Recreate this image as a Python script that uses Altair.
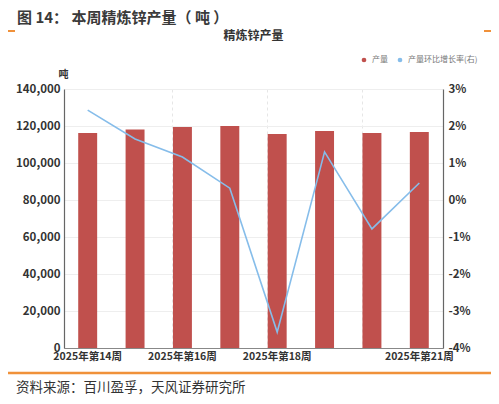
import altair as alt
import pandas as pd

FONT = "Noto Sans CJK SC"

weeks = ["2025年第14周", "2025年第15周", "2025年第16周", "2025年第17周",
         "2025年第18周", "2025年第19周", "2025年第20周", "2025年第21周"]
output = [116200, 118100, 119500, 120000, 115700, 117300, 116200, 116800]
growth = [2.43, 1.65, 1.16, 0.32, -3.57, 1.30, -0.78, 0.46]
shown_labels = ["2025年第14周", "2025年第16周", "2025年第18周", "2025年第21周"]
grid_weeks = ["2025年第16周", "2025年第18周", "2025年第20周"]
series_names = ["产量", "产量环比增长率(右)"]
series_colors = ["#c0504d", "#86bdea"]
left_ticks = [0, 20000, 40000, 60000, 80000, 100000, 120000, 140000]
right_ticks = [-4, -3, -2, -1, 0, 1, 2, 3]
fig_title = ["图 14： 本周精炼锌产量（ 吨 ）"]
chart_title = ["精炼锌产量"]
source_text = ["资料来源：百川盈孚，天风证券研究所"]

df = pd.DataFrame({"week": weeks, "output": output, "growth": growth})

W, H = 379, 259

label_list = "[" + ",".join("'" + s + "'" for s in shown_labels) + "]"
grid_list = "[" + ",".join("'" + s + "'" for s in grid_weeks) + "]"

x_enc = alt.X(
    "week:N", sort=weeks, title=None,
    scale=alt.Scale(paddingInner=0.6, paddingOuter=0.3),
    axis=alt.Axis(
        labelAngle=0, ticks=False, labelOverlap=False,
        labelExpr=f"indexof({label_list}, datum.value) >= 0 ? datum.value : ''",
        labelFont=FONT, labelFontSize=10.5, labelColor="#333", labelFontWeight="bold",
        labelPadding=3, domainColor="#888", domainWidth=1.2,
        grid=True, bandPosition=0, gridColor="#e6e6e6", gridDash=[3, 3],
        gridOpacity=alt.ConditionalAxisNumber(
            condition={"test": f"indexof({grid_list}, datum.value) >= 0", "value": 1},
            value=0),
    ),
)

color_enc = alt.Color(
    "series:N",
    scale=alt.Scale(domain=series_names, range=series_colors),
    legend=alt.Legend(
        title=None, orient="none", direction="horizontal",
        legendX=296, legendY=-33, symbolType="circle", symbolSize=22,
        labelFont=FONT, labelFontSize=8, labelColor="#777", columnPadding=8,
        symbolStrokeWidth=0,
    ),
)

bars = alt.Chart(df).transform_calculate(series="'产量'").mark_bar().encode(
    x=x_enc,
    y=alt.Y(
        "output:Q", scale=alt.Scale(domain=[0, 140000], nice=False),
        axis=alt.Axis(
            values=left_ticks, format=",.0f", title="吨", titleAngle=0,
            titleX=-1, titleY=-15, titleAlign="center", titleBaseline="middle",
            titleFont=FONT, titleFontSize=10,
            titleFontWeight="bold", titleColor="#333",
            labelFont=FONT, labelFontSize=11.5, labelColor="#333", labelFontWeight="bold",
            ticks=False, labelPadding=4, domainColor="#666", domainWidth=1.2,
            gridColor="#eeeeee",
        ),
    ),
    color=color_enc,
)

line = alt.Chart(df).transform_calculate(series="'产量环比增长率(右)'").mark_line(
    strokeWidth=1.6
).encode(
    x=x_enc,
    y=alt.Y(
        "growth:Q", scale=alt.Scale(domain=[-4, 3], nice=False),
        axis=alt.Axis(
            orient="right", values=right_ticks, labelExpr="datum.value + '%'",
            title=None, grid=False, ticks=False, labelPadding=5,
            labelFont=FONT, labelFontSize=11.5, labelColor="#333", labelFontWeight="bold",
            domainColor="#666", domainWidth=1.2,
        ),
    ),
    color=color_enc,
)

def text_layer(txt, x, y, size, weight="normal", color="#333", align="left"):
    return alt.Chart(pd.DataFrame({"t": txt})).mark_text(
        font=FONT, fontSize=size, fontWeight=weight, color=color,
        align=align, baseline="middle",
    ).encode(text="t:N", x=alt.value(x), y=alt.value(y))

def rule_layer(x1, x2, y, width=2):
    return alt.Chart(pd.DataFrame({"a": [0]})).mark_rule(
        color="#f0913a", strokeWidth=width
    ).encode(x=alt.value(x1), x2=alt.value(x2), y=alt.value(y))

t1 = text_layer(fig_title, -47, -71, 15, "bold", "#3a3a3a")
t2 = text_layer(chart_title, W / 2, -53, 12, "bold", "#333", "center")
t3 = text_layer(source_text, -48, 299, 13.5, "normal", "#333")
r1 = rule_layer(-59, -49, -58)
r2 = rule_layer(420, 430, -58)
r3 = rule_layer(-58, 430, 284, 2.5)

chart = alt.layer(bars, line, t1, t2, t3, r1, r2, r3).resolve_scale(
    y="independent"
).properties(
    width=W, height=H,
    autosize=alt.AutoSizeParams(type="none"),
    padding={"left": 56, "top": 81, "right": 48, "bottom": 48},
    background="white",
).configure_view(stroke=None)

chart.save("out.html", embed_options={"renderer": "svg", "actions": False})
